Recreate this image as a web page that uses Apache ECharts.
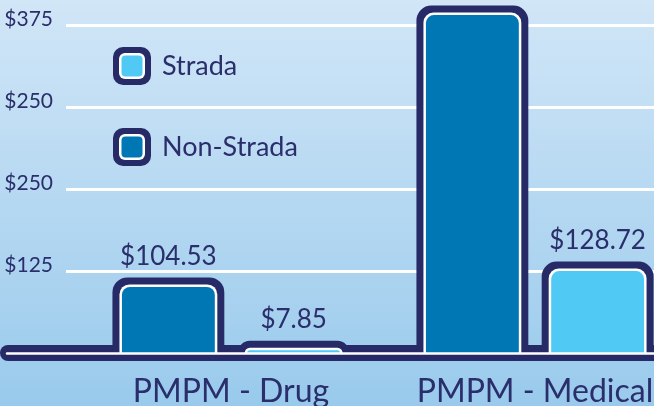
<!DOCTYPE html>
<html><head><meta charset="utf-8">
<script src="https://cdn.jsdelivr.net/npm/echarts@6/dist/echarts.min.js"></script>
<style>html,body{margin:0;padding:0;}#c{width:654px;height:406px;}</style>
</head><body><div id="c"></div>
<script>
const categories = ['PMPM - Drug', 'PMPM - Medical'];
const seriesNames = ['Strada', 'Non-Strada'];
const stradaValues = [7.85, 128.72];
const nonStradaValues = [104.53, 519];
const stradaShowLabel = [true, true];
const nonStradaShowLabel = [true, false];
const yTickLabels = ['', '$125', '$250', '$250', '$375'];

const NAVY = '#262a66';
const TEXT = '#2a2e6b';
const DARK = '#0077b5';
const LIGHT = '#50caf4';
const FONT = 'Lato';

function icon(fill) {
  const svg = "<svg xmlns='http://www.w3.org/2000/svg' width='38' height='38'>" +
    "<rect x='0' y='0' width='38' height='38' rx='10' fill='" + NAVY + "'/>" +
    "<rect x='6' y='6' width='26' height='26' rx='6' fill='#ffffff'/>" +
    "<rect x='8.5' y='8.5' width='21' height='21' rx='4' fill='" + fill + "'/></svg>";
  return 'image://data:image/svg+xml;charset=utf-8,' + encodeURIComponent(svg);
}

function makeRender(side, fill, showLabel) {
  return function (params, api) {
    const cat = api.value(0), val = api.value(1);
    const top = api.coord([cat, val]);
    const base = api.coord([cat, 0]);
    const band = api.size([1, 0])[0];
    const cx = top[0] + side * band * 0.206;
    const w = band * 0.368;
    const y0 = top[1] - 7;
    const yb = base[1];
    const h = yb - y0;
    const children = [
      {type: 'rect', shape: {x: cx - w / 2, y: y0, width: w, height: h, r: [15, 15, 0, 0]}, style: {fill: NAVY}},
      {type: 'rect', shape: {x: cx - w / 2 + 7, y: y0 + 7, width: w - 14, height: h - 7, r: [10, 10, 0, 0]}, style: {fill: '#ffffff'}},
      {type: 'rect', shape: {x: cx - w / 2 + 9.5, y: y0 + 9.5, width: w - 19, height: h - 9.5, r: [8, 8, 0, 0]}, style: {fill: fill}}
    ];
    if (showLabel[params.dataIndex]) {
      children.push({type: 'text', style: {text: '$' + val.toFixed(2), x: cx, y: y0 - 8,
        align: 'center', verticalAlign: 'bottom', fill: TEXT, font: '26px ' + FONT}});
    }
    return {type: 'group', children: children};
  };
}

const chart = echarts.init(document.getElementById('c'), null, {renderer: 'canvas'});
const option = {
  animation: false,
  backgroundColor: {type: 'linear', x: 0, y: 0, x2: 0, y2: 1,
    colorStops: [{offset: 0, color: '#d1e6f7'}, {offset: 1, color: '#99caec'}]},
  legend: {
    data: [
      {name: seriesNames[0], icon: icon(LIGHT)},
      {name: seriesNames[1], icon: icon(DARK)}
    ],
    orient: 'vertical', left: 113, top: 47, padding: 0, itemWidth: 38, itemHeight: 38, itemGap: 43,
    selectedMode: false,
    textStyle: {color: TEXT, fontFamily: FONT, fontSize: 27, padding: [0, 0, 0, 6]}
  },
  grid: [
    {left: 66, right: 0, top: 25, bottom: 53, outerBoundsMode: 'none'},
    {left: 79, width: 608, top: 25, bottom: 53, outerBoundsMode: 'none'},
    {left: 8, right: -20, top: 25, bottom: 53, outerBoundsMode: 'none'},
    {left: 7, right: -20, top: 25, bottom: 53, outerBoundsMode: 'none'}
  ],
  xAxis: [
    {gridIndex: 0, type: 'category', data: [''], show: false},
    {gridIndex: 1, type: 'category', data: categories,
      axisLine: {show: false}, axisTick: {show: false},
      axisLabel: {color: TEXT, fontFamily: FONT, fontSize: 32, margin: 23, interval: 0, hideOverlap: false}},
    {gridIndex: 2, type: 'category', data: [''], z: 1,
      axisLine: {show: true, lineStyle: {color: NAVY, width: 16, cap: 'round'}},
      axisTick: {show: false}, axisLabel: {show: false}},
    {gridIndex: 3, type: 'category', data: [''], z: 10,
      axisLine: {show: true, lineStyle: {color: '#ffffff', width: 2.5}},
      axisTick: {show: false}, axisLabel: {show: false}}
  ],
  yAxis: [
    {gridIndex: 0, type: 'value', min: 0, max: 500, interval: 125,
      axisLine: {show: false}, axisTick: {show: false},
      splitLine: {show: true, lineStyle: {color: '#ffffff', width: 3}},
      axisLabel: {color: TEXT, fontFamily: FONT, fontSize: 21, margin: 13,
        verticalAlign: 'bottom', lineHeight: 12,
        formatter: function (v) { return yTickLabels[Math.round(v / 125)]; }}},
    {gridIndex: 1, type: 'value', min: 0, max: 500, show: false},
    {gridIndex: 2, type: 'value', min: 0, max: 500, show: false},
    {gridIndex: 3, type: 'value', min: 0, max: 500, show: false}
  ],
  series: [
    {name: seriesNames[1], type: 'custom', xAxisIndex: 1, yAxisIndex: 1, z: 3,
      itemStyle: {color: DARK},
      renderItem: makeRender(-1, DARK, nonStradaShowLabel),
      data: nonStradaValues.map((v, i) => [i, v]), clip: false},
    {name: seriesNames[0], type: 'custom', xAxisIndex: 1, yAxisIndex: 1, z: 3,
      itemStyle: {color: LIGHT},
      renderItem: makeRender(1, LIGHT, stradaShowLabel),
      data: stradaValues.map((v, i) => [i, v]), clip: false}
  ]
};
chart.setOption(option);
</script></body></html>
